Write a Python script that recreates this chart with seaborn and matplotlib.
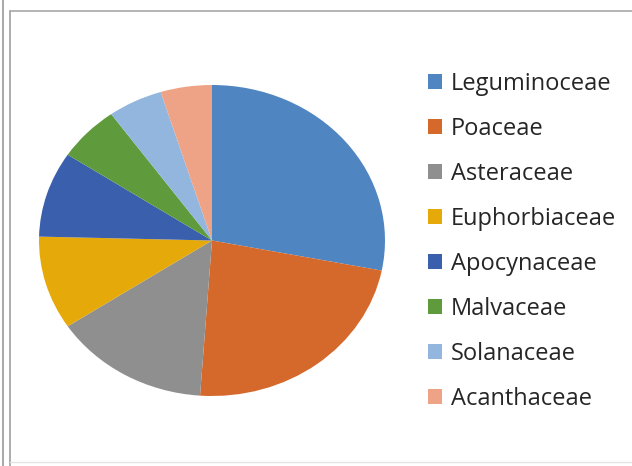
import matplotlib
matplotlib.use('Agg')
import matplotlib.pyplot as plt
import seaborn as sns
from matplotlib.lines import Line2D
from matplotlib.patches import Patch

families = ["Leguminoceae", "Poaceae", "Asteraceae", "Euphorbiaceae",
            "Apocynaceae", "Malvaceae", "Solanaceae", "Acanthaceae"]
shares = [28.1, 23.0, 14.6, 9.7, 8.9, 5.8, 5.1, 4.8]
colors = ["#4F86C2", "#D5692B", "#8F8F8F", "#E5AA0A",
          "#3A5FAD", "#5F9B3C", "#93B6DF", "#EFA386"]

sns.set_theme(style="white")
plt.rcParams['font.family'] = ['Open Sans', 'DejaVu Sans']

W, H = 632, 466
fig = plt.figure(figsize=(W / 100, H / 100), dpi=100)

# frame lines around the chart area
fig.add_artist(Line2D([3 / W, 3 / W], [0, 1], color="#9a9a9a", lw=1.2))
fig.add_artist(Line2D([10 / W, 10 / W], [0, 1 - 11 / H], color="#a0a0a0", lw=1.2))
fig.add_artist(Line2D([10 / W, 1], [1 - 11 / H, 1 - 11 / H], color="#a8a8a8", lw=1.2))
fig.add_artist(Line2D([10 / W, 1], [4 / H, 4 / H], color="#e4e4e4", lw=1.0))

# pie is a bit wider than tall in the reference, so stretch the axes
ax = fig.add_axes([39 / W, 70 / H, 346 / W, 311 / H])
ax.pie(shares, colors=sns.color_palette(colors), startangle=90, counterclock=False,
       wedgeprops=dict(linewidth=0))
ax.set_aspect('auto')
ax.set_xlim(-1, 1)
ax.set_ylim(-1, 1)
ax.axis('off')

handles = [Patch(facecolor=c, edgecolor='none') for c in colors]
fig.legend(handles, families, loc='upper left', bbox_to_anchor=(428 / W, 1 - 72 / H),
           frameon=False, fontsize=17, handlelength=0.6, handleheight=0.6,
           handletextpad=0.38, labelspacing=0.89, borderaxespad=0, borderpad=0)

fig.savefig("out.png", dpi=100, facecolor="white")
